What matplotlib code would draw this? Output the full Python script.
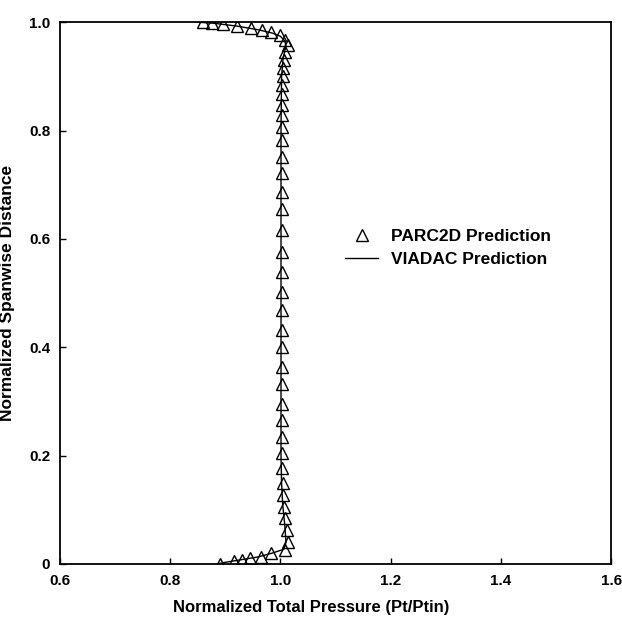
import matplotlib
matplotlib.use("Agg")
import matplotlib.pyplot as plt

# PARC2D prediction (triangles)
parc_x = [0.860, 0.876, 0.895, 0.922, 0.947, 0.967, 0.982, 1.000, 1.009, 1.013,
          1.008, 1.006, 1.005, 1.004, 1.003, 1.003, 1.002, 1.002, 1.002, 1.002,
          1.002, 1.002, 1.002, 1.002, 1.002, 1.002, 1.002, 1.002, 1.002, 1.002,
          1.002, 1.002, 1.002, 1.002, 1.002, 1.002, 1.003, 1.003, 1.004, 1.005,
          1.007, 1.009, 1.011, 1.013, 1.009, 0.982, 0.964, 0.945, 0.930, 0.915,
          0.891]
parc_y = [1.000, 0.999, 0.996, 0.993, 0.989, 0.985, 0.982, 0.976, 0.967, 0.958,
          0.945, 0.930, 0.915, 0.900, 0.885, 0.868, 0.847, 0.828, 0.807, 0.782,
          0.751, 0.721, 0.687, 0.656, 0.616, 0.576, 0.539, 0.502, 0.469, 0.432,
          0.401, 0.364, 0.333, 0.296, 0.266, 0.235, 0.204, 0.177, 0.149, 0.128,
          0.105, 0.084, 0.063, 0.041, 0.026, 0.020, 0.013, 0.011, 0.008, 0.006,
          0.000]

# VIADAC prediction (solid line)
viadac_x = [0.850, 0.880, 0.920, 0.960, 0.985, 1.000, 1.008, 1.010, 1.005,
            1.002, 1.001, 1.001, 1.001, 1.001, 1.002, 1.004, 1.008, 1.010,
            1.006, 0.985, 0.960, 0.930, 0.900, 0.885]
viadac_y = [1.000, 0.998, 0.993, 0.986, 0.980, 0.974, 0.965, 0.955, 0.935,
            0.900, 0.800, 0.600, 0.400, 0.200, 0.150, 0.110, 0.070, 0.040,
            0.027, 0.020, 0.013, 0.008, 0.003, 0.000]

x_ticks = [0.6, 0.8, 1.0, 1.2, 1.4, 1.6]
y_ticks = [0, 0.2, 0.4, 0.6, 0.8, 1.0]
y_tick_labels = ["0", "0.2", "0.4", "0.6", "0.8", "1.0"]

plt.rcParams["font.family"] = ["Liberation Sans", "DejaVu Sans"]
plt.rcParams["font.weight"] = "bold"

fig = plt.figure(figsize=(6.22, 6.17), dpi=100)
ax = fig.add_axes([0.0965, 0.086, 0.886, 0.878])

ax.plot(viadac_x, viadac_y, color="black", lw=1.0, label="VIADAC Prediction")
ax.plot(parc_x, parc_y, linestyle="none", marker="^", markersize=9,
        markerfacecolor="none", markeredgecolor="black", markeredgewidth=1.0,
        label="PARC2D Prediction")

ax.set_xlim(0.6, 1.6)
ax.set_ylim(0, 1.0)
ax.set_xticks(x_ticks)
ax.set_xticklabels([f"{v:.1f}" for v in x_ticks])
ax.set_yticks(y_ticks)
ax.set_yticklabels(y_tick_labels)
ax.tick_params(direction="in", length=4, width=1, labelsize=11, pad=7)
for s in ax.spines.values():
    s.set_linewidth(1.3)

ax.set_xlabel("Normalized Total Pressure (Pt/Ptin)", fontsize=12, fontweight="bold")
ax.xaxis.set_label_coords(0.455, -0.066)
ax.set_ylabel("Normalized Spanwise Distance", fontsize=12.5, fontweight="bold", labelpad=10)

handles, labels = ax.get_legend_handles_labels()
leg = ax.legend(handles[::-1], labels[::-1], loc="center left",
                bbox_to_anchor=(0.518, 0.584), frameon=False, fontsize=12.5,
                borderpad=0, borderaxespad=0,
                handlelength=1.9, handletextpad=0.7, labelspacing=0.45)
for t in leg.get_texts():
    t.set_fontweight("bold")

fig.savefig("out.png", dpi=100)
